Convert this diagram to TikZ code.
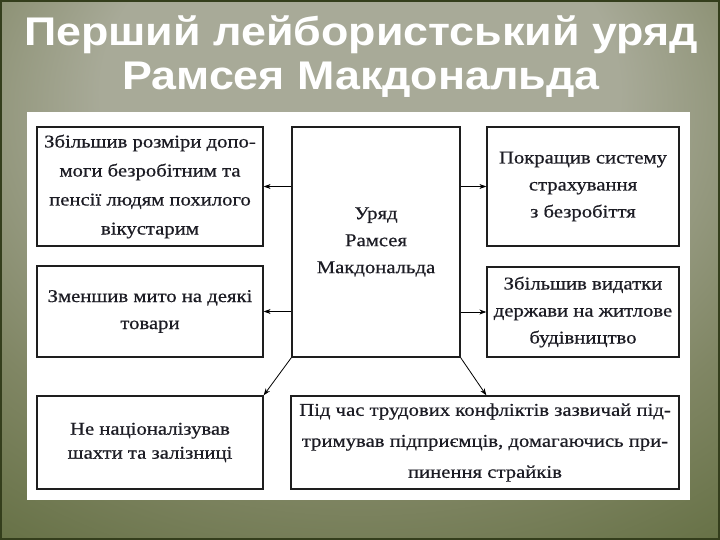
\documentclass[tikz,border=0pt]{standalone}
\usepackage{fontspec}
\setmainfont{Liberation Serif}
\newfontfamily\titlefont[FakeStretch=1.12]{Liberation Sans}
\newfontfamily\boxfont[FakeStretch=1.15,FakeBold=0.6]{Liberation Serif}
\usetikzlibrary{arrows.meta}

\definecolor{bgin}{RGB}{168,170,152}
\definecolor{bgmid}{RGB}{128,134,100}
\definecolor{bgout}{RGB}{84,98,48}
\definecolor{bgdark}{RGB}{52,62,28}
\definecolor{frameline}{RGB}{30,30,30}
\definecolor{boxtext}{RGB}{28,28,36}
\pgfdeclareradialshading{slidebg}{\pgfpoint{0bp}{22bp}}{color(0bp)=(bgin); color(18bp)=(bgin); color(32bp)=(bgmid); color(50bp)=(bgout); color(72bp)=(bgdark)}

\tikzset{
  fact/.style={draw=frameline, line width=1.3pt, fill=white, align=center,
    inner sep=0pt, text=boxtext, font=\boxfont\fontsize{18}{27}\selectfont},
  link/.style={line width=0.8pt, -{Stealth[length=7pt,width=5pt]}}
}

\begin{document}
\begin{tikzpicture}[x=1pt,y=-1pt]
	\useasboundingbox (0,0) rectangle (720,540);
	\shade[shading=slidebg] (0,0) rectangle (720,540);
	\draw[bgdark, line width=2pt] (1,1) rectangle (719,539);

	\node[text=white, font=\titlefont\bfseries\fontsize{40}{44}\selectfont, align=center]
		(title) at (361,57) {Перший лейбористський уряд\\Рамсея Макдональда};

	\fill[white] (27,112) rectangle (690,500);

	\node[fact, minimum width=226pt, minimum height=119pt,
		font=\boxfont\fontsize{18}{29}\selectfont] (tl) at (150,186.5)
		{Збільшив розміри допо-\\моги безробітним та\\пенсії людям похилого\\вікустарим};
	\node[fact, minimum width=226pt, minimum height=91pt] (ml) at (150,311.5)
		{Зменшив мито на деякі\\товари};
	\node[fact, minimum width=226pt, minimum height=93pt,
		font=\boxfont\fontsize{18}{24}\selectfont] (bl) at (150,442.5)
		{Не націоналізував\\шахти та залізниці};
	\node[fact, minimum width=168pt, minimum height=230pt] (cen) at (376,242)
		{Уряд\\Рамсея\\Макдональда};
	\node[fact, minimum width=192pt, minimum height=119pt] (tr) at (583,186.5)
		{Покращив систему\\страхування\\з безробіття};
	\node[fact, minimum width=192pt, minimum height=90pt] (mr) at (583,312)
		{Збільшив видатки\\держави на житлове\\будівництво};
	\node[fact, minimum width=388pt, minimum height=93pt,
		font=\boxfont\fontsize{18}{31}\selectfont] (br) at (485,442.5)
		{Під час трудових конфліктів зазвичай під-\\тримував підприємців, домагаючись при-\\пинення страйків};

	\draw[link] (cen.west |- tl.east) -- (tl.east);
	\draw[link] (cen.west |- ml.east) -- (ml.east);
	\draw[link] (cen.east |- tr.west) -- (tr.west);
	\draw[link] (cen.east |- mr.west) -- (mr.west);
	\draw[link] (cen.south west) -- (bl.north east);
	\draw[link] (cen.south east) -- (br.north -| tr.west);
\end{tikzpicture}
\end{document}
